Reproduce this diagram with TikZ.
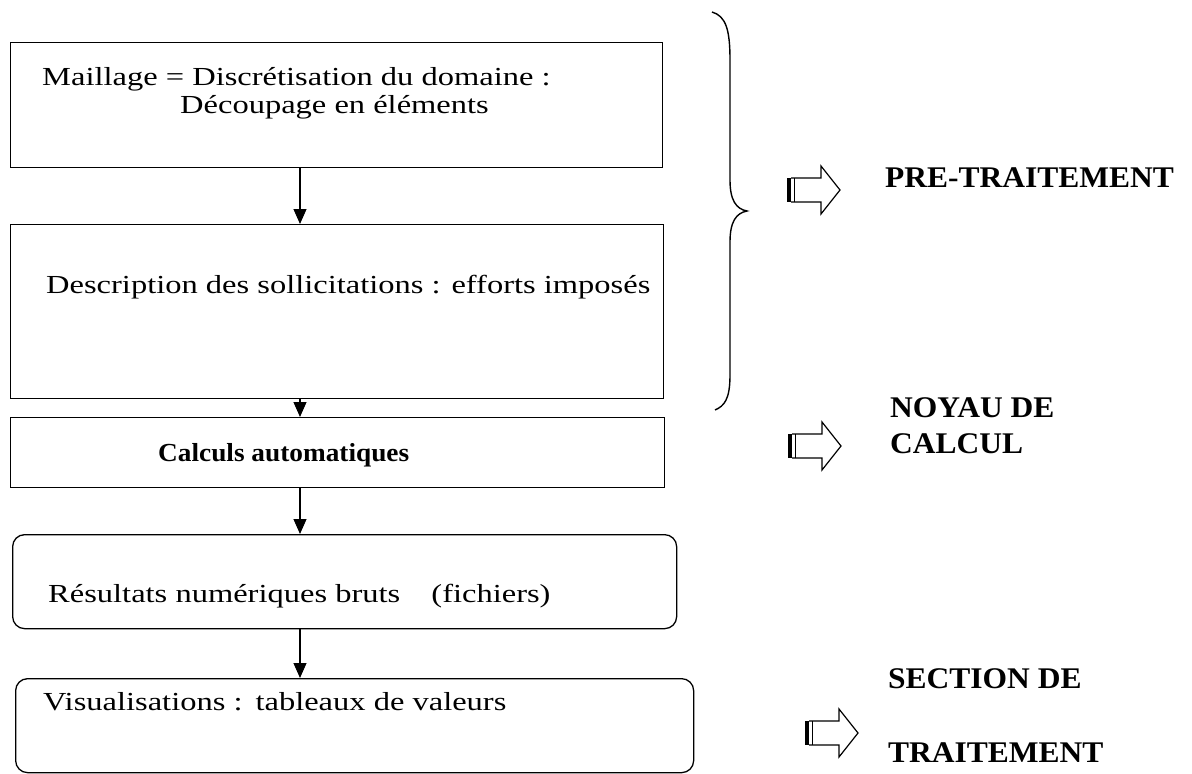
\documentclass[tikz,border=0pt]{standalone}
\usepackage{fontspec}
\setmainfont{Liberation Serif}
\newfontfamily\boxfont[FakeStretch=1.25]{Liberation Serif}
\newfontfamily\labfont[FakeStretch=1.05]{Liberation Serif}
\usetikzlibrary{arrows.meta,calc}
\begin{document}
\begin{tikzpicture}[x=1pt,y=-1pt,
  box/.style={draw,line width=1.3pt,inner sep=0pt,anchor=north west},
  rbox/.style={box,rounded corners=12pt},
  txt/.style={anchor=base west,inner sep=0pt,font=\boxfont\fontsize{26}{28}\selectfont},
  lab/.style={anchor=base west,inner sep=0pt,font=\labfont\bfseries\fontsize{30}{32}\selectfont},
  flow/.style={line width=1.2pt,-{Triangle[length=15pt,width=13pt]}},
  hollow/.style={line width=1.2pt,line join=miter}
]
\useasboundingbox (0,0) rectangle (1192,774);
\coordinate (ax) at (300,0);
% boxes
\node[box,minimum width=652,minimum height=125] (b1) at (10,42) {};
\node[box,minimum width=653,minimum height=174] (b2) at (10,224) {};
\node[box,minimum width=654,minimum height=70] (b3) at (10,417) {};
\node[rbox,minimum width=664,minimum height=94] (b4) at (12,534) {};
\node[rbox,minimum width=678,minimum height=94] (b5) at (15,678) {};
% texts
\node[txt] (t1a) at (42,85) {Maillage = Discrétisation du domaine :};
\node[txt] (t1b) at (180,113) {Découpage en éléments};
\node[txt] (t2) at (46,293) {Description des sollicitations : efforts imposés};
\node[txt,font=\labfont\bfseries\fontsize{26}{28}\selectfont] (t3) at (158,461) {Calculs automatiques};
\node[txt] (t4) at (48,602) {Résultats numériques bruts\hspace{1.2em}(fichiers)};
\node[txt] (t5) at (43,710) {Visualisations :\hspace{0.5em}tableaux de valeurs};
% flow arrows
\draw[flow] (b1.south -| ax) -- (b2.north -| ax);
\draw[flow] (b2.south -| ax) -- (b3.north -| ax);
\draw[flow] (b3.south -| ax) -- (b4.north -| ax);
\draw[flow] (b4.south -| ax) -- (b5.north -| ax);
% brace
\coordinate (br1) at (712,12);
\coordinate (brt) at (747,211);
\coordinate (br2) at (715,410);
\draw[line width=1.4pt] (br1) .. controls (726,16) and (730,30) .. (730,60)
  -- (730,180) .. controls (730,200) and (736,209) .. (brt)
  .. controls (736,213) and (730,222) .. (730,242)
  -- (730,375) .. controls (730,400) and (724,406) .. (br2);
% labels
\node[lab] (l1) at (885,187) {PRE-TRAITEMENT};
\node[lab] (l2a) at (890,417) {NOYAU DE};
\node[lab] (l2b) at (890,453) {CALCUL};
\node[lab] (l3a) at (888,688) {SECTION DE};
\node[lab] (l3b) at (888,762) {TRAITEMENT};
% hollow arrows
\foreach \nm/\xo/\yo in {p1/787/190, p2/788/446, p3/805/733}{
  \coordinate (\nm) at (\xo,\yo);
  \fill ($(\nm)+(0,-12)$) rectangle ($(\nm)+(4,12)$);
  \draw[line width=1pt] ($(\nm)+(7,-12)$) -- ($(\nm)+(7,12)$);
  \draw[hollow] ($(\nm)+(4,-12)$) -- ($(\nm)+(34,-12)$) -- ($(\nm)+(34,-24)$)
     -- ($(\nm)+(53,0)$) -- ($(\nm)+(34,24)$) -- ($(\nm)+(34,12)$) -- ($(\nm)+(4,12)$);
}
\end{tikzpicture}
\end{document}
